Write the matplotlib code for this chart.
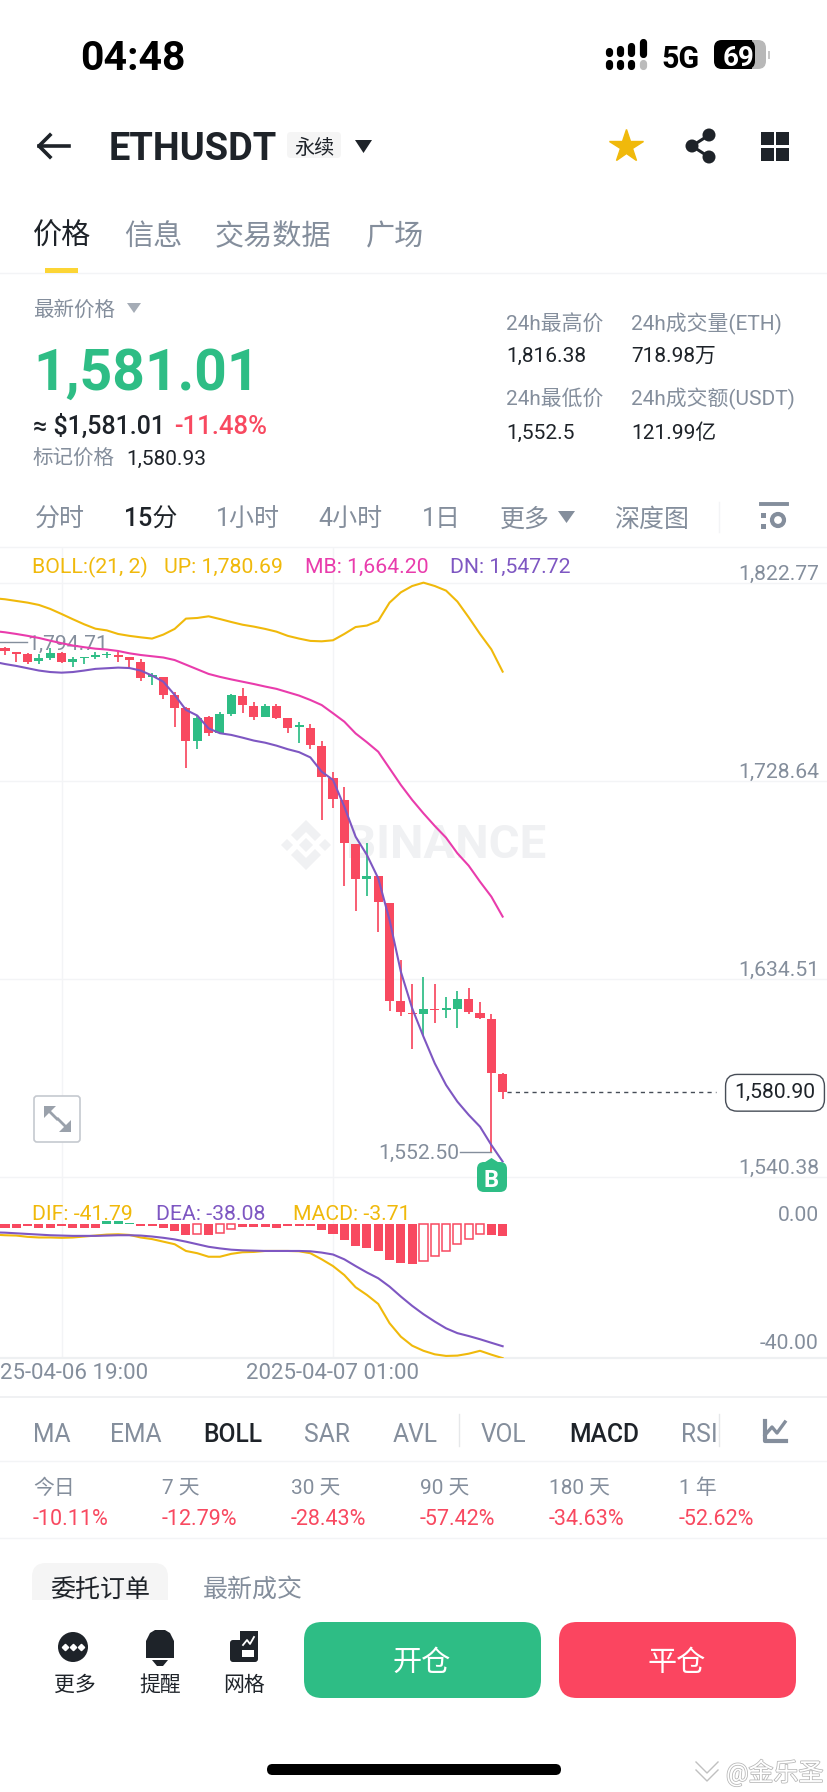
import numpy as np
import matplotlib
matplotlib.use("Agg")
import matplotlib.pyplot as plt
import matplotlib.patheffects as pe
from matplotlib.patches import FancyBboxPatch, Polygon, Circle, Rectangle

plt.rcParams['font.family'] = ['Roboto', 'Noto Sans CJK SC', 'DejaVu Sans']

# ---------- candles, index 0..44 (15 min bars) ----------
opens = [1792.1, 1790.0, 1788.9, 1785.9, 1787.0, 1789.4, 1785.4, 1787.2, 1787.6, 1788.6, 1788.6, 1787.5,
         1785.4, 1778.3, 1778.0, 1769.6, 1763.2, 1747.9, 1759.0, 1751.4, 1760.7, 1769.1, 1764.5, 1759.3,
         1764.3, 1758.8, 1754.2, 1754.0, 1745.5, 1729.9, 1719.7, 1698.7, 1681.9, 1683.7, 1670.5, 1624.1,
         1618.5, 1617.9, 1620.3, 1619.8, 1620.3, 1625.0, 1618.5, 1615.5, 1589.2]
closes = [1790.7, 1789.2, 1785.3, 1787.0, 1789.4, 1785.1, 1786.8, 1787.8, 1788.4, 1789.2, 1787.8, 1786.2,
          1777.5, 1778.9, 1769.6, 1763.2, 1747.9, 1758.8, 1751.4, 1760.7, 1769.4, 1764.7, 1759.1, 1764.2,
          1758.8, 1753.9, 1755.3, 1746.0, 1730.4, 1720.0, 1699.0, 1681.9, 1683.7, 1671.0, 1624.2, 1618.7,
          1617.9, 1620.3, 1619.6, 1620.6, 1625.0, 1618.7, 1615.8, 1589.7, 1580.9]
highs = [1792.6, 1790.0, 1789.4, 1789.1, 1791.8, 1790.2, 1787.5, 1787.8, 1789.9, 1790.2, 1790.2, 1787.8,
         1786.5, 1779.9, 1778.0, 1771.2, 1764.0, 1759.8, 1759.8, 1761.3, 1770.0, 1772.7, 1766.1, 1765.1,
         1765.1, 1758.8, 1756.6, 1755.6, 1747.5, 1733.1, 1726.0, 1698.7, 1699.4, 1683.7, 1670.5, 1643.6,
         1632.2, 1635.6, 1632.2, 1625.8, 1629.0, 1630.4, 1623.8, 1617.7, 1590.0]
lows = [1788.6, 1785.4, 1784.2, 1784.3, 1786.2, 1784.6, 1782.7, 1784.3, 1786.5, 1787.3, 1785.4, 1782.3,
        1776.2, 1774.3, 1767.5, 1754.5, 1735.0, 1743.9, 1750.2, 1751.4, 1759.6, 1760.9, 1757.7, 1759.3,
        1758.0, 1751.4, 1746.9, 1743.7, 1710.1, 1716.0, 1678.8, 1666.7, 1674.2, 1656.7, 1619.2, 1617.1,
        1601.1, 1607.4, 1613.5, 1615.8, 1611.1, 1617.7, 1615.5, 1552.5, 1577.3]

# ---------- bollinger bands, index -1..44 ----------
boll_up = [1815.6, 1815.1, 1814.3, 1813.5, 1812.4, 1810.5, 1808.1, 1805.6, 1803.2, 1801.1, 1800.3, 1798.6,
           1797.7, 1797.0, 1796.4, 1798.3, 1801.0, 1805.9, 1806.2, 1807.0, 1805.7, 1804.3, 1803.0, 1802.1,
           1801.0, 1799.7, 1797.7, 1796.4, 1795.3, 1795.1, 1795.6, 1798.6, 1801.9, 1802.6, 1804.8, 1813.5,
           1818.4, 1821.4, 1823.0, 1821.4, 1819.2, 1814.0, 1806.5, 1798.6, 1791.3, 1780.69]
boll_mb = [1800.0, 1799.4, 1798.6, 1797.7, 1796.7, 1795.4, 1794.2, 1793.1, 1792.3, 1791.6, 1791.2, 1790.5,
           1789.4, 1788.6, 1788.0, 1787.4, 1786.2, 1784.0, 1781.8, 1779.6, 1778.2, 1777.0, 1775.9, 1774.8,
           1773.6, 1772.5, 1770.9, 1769.3, 1767.2, 1764.8, 1760.9, 1756.9, 1751.3, 1747.1, 1742.6, 1734.7,
           1726.8, 1719.7, 1713.3, 1707.3, 1701.7, 1694.3, 1688.4, 1680.8, 1673.7, 1664.2]
boll_dn = [1785.4, 1784.3, 1783.4, 1782.3, 1781.2, 1780.5, 1780.2, 1780.5, 1781.2, 1782.0, 1782.3, 1782.6,
           1782.4, 1781.2, 1778.8, 1775.9, 1769.6, 1762.5, 1759.8, 1753.7, 1751.4, 1750.6, 1749.3, 1747.9,
           1746.9, 1745.5, 1743.8, 1742.4, 1739.9, 1733.1, 1729.2, 1716.5, 1702.2, 1693.5, 1682.4, 1662.6,
           1638.0, 1620.6, 1607.1, 1594.4, 1584.1, 1576.2, 1569.9, 1564.3, 1555.6, 1547.72]

# ---------- macd, lines index -1..44, histogram index 0..44 ----------
dif = [-3.3, -3.5, -3.6, -4.0, -4.2, -4.2, -4.3, -4.2, -3.9, -3.6, -3.3, -3.2, -3.4, -4.2, -4.7, -5.5,
       -6.3, -8.4, -9.1, -10.2, -10.2, -9.3, -8.8, -8.7, -8.4, -8.4, -8.4, -8.5, -9.1, -11.0, -13.1, -15.9,
       -19.7, -22.1, -24.9, -30.9, -35.1, -37.9, -39.5, -40.6, -41.1, -41.0, -40.4, -39.5, -40.7, -41.79]
dea = [-2.6, -2.7, -2.9, -3.1, -3.3, -3.5, -3.6, -3.7, -3.7, -3.7, -3.6, -3.5, -3.5, -3.6, -3.9, -4.3,
       -4.8, -5.5, -6.3, -7.1, -7.6, -8.0, -8.2, -8.3, -8.4, -8.4, -8.4, -8.4, -8.5, -8.9, -9.5, -11.0,
       -13.1, -15.1, -16.9, -19.5, -22.6, -25.5, -28.1, -30.4, -32.5, -34.0, -34.9, -35.9, -37.0, -38.08]
hist = [-1.2, -1.2, -0.5, -1.2, -1.2, -0.5, -1.2, -1.2, -1.2, 1.0, 1.0, 0.3, -0.5, -0.5, -1.2, -2.2, -3.4,
        -3.1, -3.4, -2.8, -1.5, -1.0, -1.0, -1.0, -1.2, -0.5, -0.5, -0.5, -1.76, -3.1, -4.9, -6.7, -7.5,
        -8.3, -11.1, -12.2, -12.5, -11.4, -9.9, -8.3, -6.2, -4.7, -3.1, -3.3, -3.71]

price_ticks = [1822.77, 1728.64, 1634.51, 1540.38]
price_tick_labels = ['1,822.77', '1,728.64', '1,634.51', '1,540.38']
macd_ticks = [0.0, -40.0]
macd_tick_labels = ['0.00', '-40.00']
date_pos = [5, 29]
date_labels = ['2025-04-06 19:00', '2025-04-07 01:00']
last_price = 1580.90
high_mark = 1794.71
low_mark = 1552.50

period_names = ['今日', '7 天', '30 天', '90 天', '180 天', '1 年']
period_values = ['-10.11%', '-12.79%', '-28.43%', '-57.42%', '-34.63%', '-52.62%']

W, H = 828, 1792
RED = '#f84960'
GREEN = '#2ebd85'
YELLOW = '#f0b90b'
PINK = '#e93cac'
PURPLE = '#7e57c2'
GREY = '#848e9c'
DARK = '#1e2329'
GRID = '#f3f4f6'
TICK = 15.2

fig = plt.figure(figsize=(W / 100, H / 100), dpi=100)
fig.patch.set_facecolor('white')


def px_axes(top, bottom, z):
    return fig.add_axes([0, 1 - bottom / H, 1, (bottom - top) / H], zorder=z)


bg = px_axes(0, H, 0)
ui = px_axes(0, H, 5)
for a in (bg, ui):
    a.set_xlim(0, W)
    a.set_ylim(H, 0)
    a.axis('off')
    a.patch.set_alpha(0)


def t(x, y, s, size, color=DARK, ha='left', weight='normal', z=6):
    return ui.text(x, y, s, fontsize=size, color=color, ha=ha, va='center_baseline', fontweight=weight, zorder=z)


def rbox(x0, y0, x1, y1, r, fc, ec='none', lw=0, ax=ui, z=2):
    p = FancyBboxPatch((x0 + r, y0 + r), x1 - x0 - 2 * r, y1 - y0 - 2 * r,
                       boxstyle=f"round,pad={r},rounding_size={r}", fc=fc, ec=ec, lw=lw, zorder=z)
    ax.add_patch(p)
    return p


def hline(y, x0=0, x1=W, color=GRID, lw=1.0):
    ui.plot([x0, x1], [y, y], color=color, lw=lw, zorder=1)


# ---------- price pane ----------
# x axis: candle i sits at 5 + 11.31 * i px
STEP = 11.31
xlim = (-5 / STEP, (W - 5) / STEP)
Y_TOP, Y_BOT = 547, 1180
PX_PER = 2.103
ax = px_axes(Y_TOP, Y_BOT, 2)
ax.patch.set_alpha(0)
ax.set_xlim(*xlim)
ax.set_ylim(1540.38 + (1177 - Y_BOT) / PX_PER, 1540.38 + (1177 - Y_TOP) / PX_PER)
for s in ax.spines.values():
    s.set_visible(False)
ax.set_xticks(date_pos)
ax.set_yticks(price_ticks)
ax.tick_params(length=0, labelbottom=False, labelleft=False)
ax.grid(True, color=GRID, lw=1.0)
ax.set_axisbelow(True)

idx = np.arange(len(opens))
line_x = np.arange(-1, len(opens))
colors = [RED if c < o else GREEN for o, c in zip(opens, closes)]
ax.vlines(idx, lows, highs, colors=colors, lw=1.25, zorder=3)
ax.bar(idx, np.abs(np.array(closes) - np.array(opens)), bottom=np.minimum(opens, closes), width=0.8,
       color=colors, zorder=3)
ax.plot(line_x, boll_up, color=YELLOW, lw=1.5, zorder=4)
ax.plot(line_x, boll_mb, color=PINK, lw=1.5, zorder=4)
ax.plot(line_x, boll_dn, color=PURPLE, lw=1.5, zorder=4)

for p, lab in zip(price_ticks, price_tick_labels):
    ax.annotate(lab, xy=(1, p), xycoords=('axes fraction', 'data'), xytext=(-9, -1), textcoords='offset pixels',
                ha='right', va='bottom', fontsize=TICK, color=GREY)

# last price
ax.plot([44.4, 62.9], [last_price, last_price], color='#474d57', lw=1.0, dashes=(3, 3), zorder=4)
ax.annotate(f'{last_price:,.2f}', xy=(1, last_price), xycoords=('axes fraction', 'data'), xytext=(-53, -1),
            textcoords='offset pixels', ha='center', va='center', fontsize=TICK, color=DARK, zorder=7,
            bbox=dict(boxstyle='round,pad=0.42,rounding_size=0.55', fc='white', ec='#474d57', lw=1.0))

# high / low marks
ax.plot([-1, 1.95], [high_mark, high_mark], color=GREY, lw=1.0, zorder=2)
ax.text(1.95, high_mark, f'{high_mark:,.2f}', fontsize=TICK, color=GREY, va='center_baseline', ha='left', zorder=2)
ax.plot([40.2, 43], [low_mark, low_mark], color=GREY, lw=1.0, zorder=4)
ax.text(40.2, low_mark, f'{low_mark:,.2f}', fontsize=TICK, color=GREY, va='center_baseline', ha='right', zorder=4)

# ---------- macd pane ----------
M_TOP, M_BOT = 1180, 1358
M_PX = 3.21
axm = px_axes(M_TOP, M_BOT, 2)
axm.patch.set_alpha(0)
axm.set_xlim(*xlim)
axm.set_ylim(-(M_BOT - 1224) / M_PX, (1224 - M_TOP) / M_PX)
for name, s in axm.spines.items():
    s.set_visible(name == 'bottom')
axm.spines['bottom'].set_color('#eef0f2')
axm.spines['bottom'].set_linewidth(1.6)
axm.set_yticks([])
axm.set_xticks(date_pos, date_labels, fontsize=16, color=GREY)
axm.tick_params(length=0, pad=3.5)
axm.grid(True, axis='x', color=GRID, lw=1.0)
axm.set_axisbelow(True)

hist_arr = np.array(hist)
for i, v in zip(idx, hist_arr):
    rising = i > 0 and v > hist_arr[i - 1] and abs(v) > 1.2
    if v > 0:
        axm.bar(i, v, width=0.8, color=GREEN, zorder=3)
    elif rising:
        axm.bar(i, v, width=0.72, fc='white', ec=RED, lw=1.1, zorder=3)
    else:
        axm.bar(i, v, width=0.8, color=RED, zorder=3)
axm.plot(line_x, dif, color=YELLOW, lw=1.5, zorder=4)
axm.plot(line_x, dea, color=PURPLE, lw=1.5, zorder=4)
for v, lab in zip(macd_ticks, macd_tick_labels):
    axm.annotate(lab, xy=(1, v), xycoords=('axes fraction', 'data'), xytext=(-9, -1), textcoords='offset pixels',
                 ha='right', va='bottom', fontsize=TICK, color=GREY)

# ---------- watermark ----------
wm = '#f0f1f3'
cx, cy = 306, 845
for pts in ([(0, -25), (15, -10), (9, -4), (0, -13), (-9, -4), (-15, -10)],
            [(0, 25), (15, 10), (9, 4), (0, 13), (-9, 4), (-15, 10)],
            [(-25, 0), (-19, -6), (-13, 0), (-19, 6)], [(25, 0), (19, -6), (13, 0), (19, 6)],
            [(0, -7), (7, 0), (0, 7), (-7, 0)]):
    bg.add_patch(Polygon([(cx + a, cy + b) for a, b in pts], fc=wm, ec='none'))
bg.text(346, 845, 'BINANCE', fontsize=34, color=wm, fontweight='bold', va='center', ha='left')

# ---------- status bar ----------
t(80, 55, '04:48', 29.5, '#000000', weight='bold')
for x, y0, y1, c in [(609, 51, 53, '#000'), (609, 63, 66, '#000'), (620, 49, 53, '#000'), (620, 63, 66, '#000'),
                     (631, 46, 53, '#000'), (631, 63, 66, '#000'), (643, 42, 54, '#000'), (643, 63, 66, '#bbbbbb')]:
    ui.plot([x, x], [y0, y1], color=c, lw=5.2, solid_capstyle='round', zorder=3)
t(661, 56, '5G', 22, '#000000', weight='bold')
rbox(714, 40, 766, 69, 8, '#b8b8b8')
rbox(714, 40, 755, 69, 8, '#000000', z=3)
ui.add_patch(Rectangle((745, 40), 7, 29, fc='#000000', ec='none', zorder=3))
ui.add_patch(Rectangle((768, 51), 2, 8, fc='#c8c8c8', ec='none', zorder=3))
t(739, 55, '69', 20, 'white', ha='center', weight='bold')

# ---------- nav bar ----------
ui.plot([39, 69], [146, 146], color=DARK, lw=2.6, zorder=3)
ui.plot([50, 39, 50], [135, 146, 157], color=DARK, lw=2.6, zorder=3)
t(109, 146, 'ETHUSDT', 27.4, DARK, weight='bold')
rbox(287, 132, 341, 158, 4, '#f5f5f5')
t(314, 146, '永续', 14.5, DARK, ha='center')
ui.add_patch(Polygon([(355, 140), (372, 140), (363.5, 153)], fc=DARK, ec='none', zorder=3))
ui.plot([626], [146], marker='*', ms=25, color=YELLOW, mec=YELLOW, zorder=3)
for a, b in [(709, 135), (692, 146), (709, 157)]:
    ui.add_patch(Circle((a, b), 6.5, fc=DARK, ec='none', zorder=3))
ui.plot([709, 692, 709], [135, 146, 157], color=DARK, lw=2.2, zorder=3)
for a, b in [(761, 132), (776, 132), (761, 148), (776, 148)]:
    ui.add_patch(Rectangle((a, b), 13, 13, fc=DARK, ec='none', zorder=3))

# ---------- tabs ----------
t(33, 234, '价格', 21, DARK, weight='medium')
t(124, 234, '信息', 21, GREY)
t(215, 234, '交易数据', 21, GREY)
t(366, 234, '广场', 21, GREY)
ui.add_patch(Rectangle((45, 268), 33, 5, fc='#fcd535', ec='none', zorder=3))
hline(273.5)

# ---------- price info ----------
t(33, 308, '最新价格', 14.8, GREY)
ui.add_patch(Polygon([(127, 303), (141, 303), (134, 313)], fc='#a5acb6', ec='none', zorder=3))
t(33, 368, '1,581.01', 41, GREEN, weight='bold')
t(33, 424, '≈ $1,581.01', 18, DARK, weight='medium')
t(174, 424, '-11.48%', 18.5, RED, weight='medium')
t(33, 457, '标记价格', 14.8, GREY)
t(126, 457, '1,580.93', 15, DARK)
for x, a, b, c, d in [(506, '24h最高价', '1,816.38', '24h最低价', '1,552.5'),
                      (631, '24h成交量(ETH)', '718.98万', '24h成交额(USDT)', '121.99亿')]:
    t(x, 322, a, 15, GREY)
    t(x, 354, b, 15, DARK)
    t(x, 397, c, 15, GREY)
    t(x, 431, d, 15, DARK)

# ---------- timeframes ----------
for x, s, c, w in [(35, '分时', GREY, 'normal'), (124, '15分', DARK, 'medium'), (216, '1小时', GREY, 'normal'),
                   (318, '4小时', GREY, 'normal'), (422, '1日', GREY, 'normal'), (500, '更多', GREY, 'normal'),
                   (614, '深度图', GREY, 'normal')]:
    t(x, 517, s, 18, c, weight=w)
ui.add_patch(Polygon([(558, 511), (575, 511), (566.5, 523)], fc=GREY, ec='none', zorder=3))
ui.plot([719, 719], [502, 532], color=GRID, lw=1, zorder=3)
ui.plot([761, 787], [504, 504], color=GREY, lw=2.8, zorder=3)
ui.add_patch(Circle((778, 520), 6, fc='white', ec=GREY, lw=3, zorder=3))
ui.add_patch(Rectangle((761, 513), 5, 5, fc=GREY, ec='none', zorder=3))
ui.add_patch(Rectangle((761, 524), 5, 5, fc=GREY, ec='none', zorder=3))
hline(547)

# ---------- indicator legends ----------
t(32, 565, 'BOLL:(21, 2)', 15.3, YELLOW)
t(164, 565, 'UP: 1,780.69', 15.3, YELLOW)
t(305, 565, 'MB: 1,664.20', 15.3, PINK)
t(450, 565, 'DN: 1,547.72', 15.3, PURPLE)
t(32, 1212, 'DIF: -41.79', 15.3, YELLOW)
t(156, 1212, 'DEA: -38.08', 15.3, PURPLE)
t(293, 1212, 'MACD: -3.71', 15.3, YELLOW)

# ---------- B marker ----------
rbox(477, 1162, 507, 1192, 7, GREEN, z=4)
ui.add_patch(Polygon([(482, 1164), (491.5, 1158), (501, 1164)], fc=GREEN, ec='none', zorder=4))
t(491.5, 1178, 'B', 17, 'white', ha='center', weight='bold')

# ---------- expand button ----------
rbox(34, 1096, 80, 1142, 3, 'white', ec='#c5c9cf', lw=1.2)
ui.add_patch(Polygon([(44, 1106), (56, 1106), (44, 1118)], fc='#9aa1ab', ec='none', zorder=3))
ui.add_patch(Polygon([(71, 1132), (59, 1132), (71, 1120)], fc='#9aa1ab', ec='none', zorder=3))
ui.plot([47, 57], [1109, 1119], color='#9aa1ab', lw=2, zorder=3)
ui.plot([68, 58], [1129, 1119], color='#9aa1ab', lw=2, zorder=3)

# ---------- indicator tabs ----------
hline(1397, color='#f0f1f3', lw=1.4)
for x, s, c, w in [(33, 'MA', GREY, 'normal'), (110, 'EMA', GREY, 'normal'), (203, 'BOLL', DARK, 'medium'),
                   (304, 'SAR', GREY, 'normal'), (393, 'AVL', GREY, 'normal'), (481, 'VOL', GREY, 'normal'),
                   (569, 'MACD', DARK, 'medium'), (681, 'RSI', GREY, 'normal')]:
    t(x, 1432, s, 17.7, c, weight=w)
ui.plot([459, 459], [1414, 1446], color='#e6e8ea', lw=1, zorder=3)
ui.add_patch(Rectangle((719, 1414), 109, 32, fc='white', ec='none', zorder=7))
ui.plot([719, 719], [1414, 1446], color='#e6e8ea', lw=1, zorder=8)
ui.plot([765, 765, 786], [1421, 1441, 1441], color=GREY, lw=3, zorder=8)
ui.plot([765, 772, 777, 785], [1435, 1427, 1433, 1422], color=GREY, lw=2.4, zorder=8)
hline(1461)

# ---------- period returns ----------
for x, a, b in zip([33, 162, 291, 420, 549, 679], period_names, period_values):
    t(x, 1486, a, 15, GREY)
    t(x, 1517, b, 15.5, RED)
hline(1538)

# ---------- order tabs ----------
rbox(32, 1563, 168, 1620, 14, '#f5f5f5')
t(50, 1587.5, '委托订单', 18, DARK, weight='medium')
t(203, 1587.5, '最新成交', 18, GREY)
ui.add_patch(Rectangle((0, 1600), W, 192, fc='white', ec='none', zorder=7))

# ---------- bottom bar ----------
ui.add_patch(Circle((73, 1647), 15, fc=DARK, ec='none', zorder=8))
ui.plot([65, 73, 81], [1647, 1647, 1647], ls='none', marker='D', ms=3.2, color='white', zorder=9)
ui.add_patch(Polygon([(146, 1658), (146, 1641), (150, 1633), (155, 1630), (165, 1630), (170, 1633), (174, 1641),
                      (174, 1658)], fc=DARK, ec='none', zorder=8))
ui.add_patch(Polygon([(152, 1660), (168, 1660), (163, 1666), (157, 1666)], fc=DARK, ec='none', zorder=8))
rbox(230, 1640, 258, 1662, 3, DARK, z=8)
ui.add_patch(Rectangle((240, 1631), 18, 14, fc=DARK, ec='none', zorder=8))
ui.plot([243, 247, 250, 254], [1645, 1640, 1644, 1637], color='white', lw=1.3, zorder=9)
ui.add_patch(Rectangle((242, 1650), 12, 7, fc='white', ec='none', zorder=9))
for x, s in [(75, '更多'), (160, '提醒'), (244, '网格')]:
    t(x, 1683, s, 15, DARK, ha='center', z=9)
rbox(304, 1622, 541, 1698, 18, GREEN, z=8)
rbox(559, 1622, 796, 1698, 18, '#fb4560', z=8)
t(422, 1660, '开仓', 21, 'white', ha='center', weight='medium', z=9)
t(677, 1660, '平仓', 21, 'white', ha='center', weight='medium', z=9)
rbox(267, 1764, 561, 1775, 5.5, '#000000', z=8)

# ---------- corner watermark ----------
mark = t(726, 1770, '@金乐圣', 18, 'white', z=9)
mark.set_path_effects([pe.withStroke(linewidth=1.1, foreground='#b5b5b5')])
ui.plot([696, 707, 718], [1762, 1773, 1762], color='#c0c0c0', lw=1, zorder=9)
ui.plot([696, 707, 718], [1770, 1781, 1770], color='#c0c0c0', lw=1, zorder=9)

fig.savefig('out.png', dpi=100, facecolor='white')
